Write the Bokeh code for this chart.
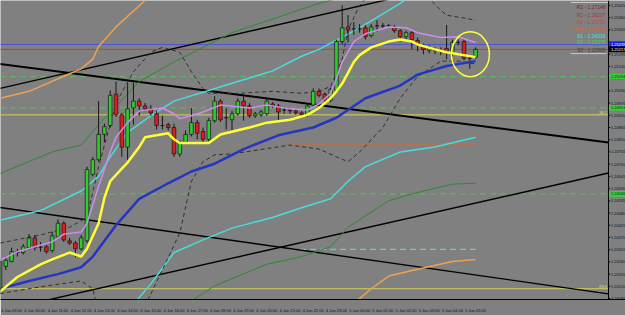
from bokeh.plotting import figure
from bokeh.models import Range1d, FixedTicker
from bokeh.embed import file_html
from bokeh.resources import INLINE
from bokeh.core.properties import value

# ---- M15 bars, bar 0 = 4 Jun 09:00 ----
open_ = [1.24130, 1.24240, 1.24262, 1.24306, 1.24302, 1.24324, 1.24368, 1.24326, 1.24328, 1.24311,
         1.24372, 1.24434, 1.24355, 1.24345, 1.24319, 1.24355, 1.24654, 1.24720, 1.24834, 1.24874,
         1.25015, 1.24922, 1.24777, 1.24953, 1.24984, 1.24962, 1.24949, 1.24927, 1.24874, 1.24878,
         1.24865, 1.24746, 1.24799, 1.24834, 1.24887, 1.24847, 1.24812, 1.24896, 1.24984, 1.24909,
         1.24900, 1.24927, 1.24984, 1.24962, 1.24918, 1.24922, 1.24927, 1.24971, 1.24962, 1.24944,
         1.24944, 1.24940, 1.24931, 1.24922, 1.24966, 1.25028, 1.25015, 1.24988, 1.25032, 1.25252,
         1.25318, 1.25309, 1.25309, 1.25314, 1.25279, 1.25323, 1.25323, 1.25323, 1.25318, 1.25301,
         1.25274, 1.25292, 1.25257, 1.25235, 1.25213, 1.25213, 1.25208, 1.25221, 1.25195, 1.25248,
         1.25252, 1.25177, 1.25182]
high = [1.24275, 1.24284, 1.24324, 1.24319, 1.24341, 1.24385, 1.24381, 1.24350, 1.24337, 1.24395,
        1.24451, 1.24443, 1.24368, 1.24355, 1.24381, 1.24689, 1.24733, 1.24984, 1.24883, 1.25032,
        1.25072, 1.24931, 1.25063, 1.25067, 1.24997, 1.24975, 1.24966, 1.24940, 1.24918, 1.24887,
        1.24883, 1.24808, 1.24852, 1.24953, 1.24900, 1.24865, 1.24909, 1.25006, 1.24993, 1.24953,
        1.24940, 1.24997, 1.25006, 1.24975, 1.24935, 1.24944, 1.24997, 1.24979, 1.24971, 1.24957,
        1.24953, 1.24949, 1.24940, 1.24971, 1.25041, 1.25041, 1.25023, 1.25045, 1.25261, 1.25415,
        1.25371, 1.25340, 1.25331, 1.25327, 1.25331, 1.25349, 1.25336, 1.25331, 1.25327, 1.25309,
        1.25301, 1.25301, 1.25270, 1.25243, 1.25235, 1.25226, 1.25226, 1.25327, 1.25261, 1.25261,
        1.25261, 1.25191, 1.25226]
low = [1.24117, 1.24223, 1.24258, 1.24284, 1.24293, 1.24315, 1.24311, 1.24306, 1.24297, 1.24302,
       1.24368, 1.24350, 1.24337, 1.24280, 1.24311, 1.24345, 1.24645, 1.24711, 1.24799, 1.24865,
       1.24913, 1.24733, 1.24720, 1.24878, 1.24918, 1.24940, 1.24918, 1.24856, 1.24856, 1.24852,
       1.24733, 1.24733, 1.24790, 1.24825, 1.24812, 1.24799, 1.24803, 1.24887, 1.24891, 1.24856,
       1.24852, 1.24918, 1.24896, 1.24909, 1.24909, 1.24913, 1.24918, 1.24953, 1.24900, 1.24927,
       1.24927, 1.24922, 1.24913, 1.24913, 1.24957, 1.25001, 1.24979, 1.24979, 1.25023, 1.25239,
       1.25248, 1.25283, 1.25292, 1.25261, 1.25270, 1.25296, 1.25309, 1.25314, 1.25292, 1.25252,
       1.25261, 1.25217, 1.25208, 1.25195, 1.25199, 1.25195, 1.25191, 1.25173, 1.25186, 1.25235,
       1.25169, 1.25129, 1.25173]
close = [1.24262, 1.24267, 1.24306, 1.24302, 1.24328, 1.24368, 1.24324, 1.24326, 1.24306, 1.24377,
         1.24434, 1.24359, 1.24345, 1.24319, 1.24368, 1.24676, 1.24720, 1.24834, 1.24869, 1.25010,
         1.24922, 1.24777, 1.24949, 1.24984, 1.24962, 1.24949, 1.24931, 1.24874, 1.24874, 1.24865,
         1.24746, 1.24799, 1.24834, 1.24887, 1.24839, 1.24812, 1.24896, 1.24984, 1.24900, 1.24909,
         1.24927, 1.24984, 1.24962, 1.24918, 1.24927, 1.24935, 1.24984, 1.24962, 1.24935, 1.24944,
         1.24940, 1.24931, 1.24922, 1.24962, 1.25028, 1.25010, 1.24988, 1.25037, 1.25252, 1.25314,
         1.25305, 1.25309, 1.25309, 1.25274, 1.25318, 1.25323, 1.25323, 1.25323, 1.25301, 1.25274,
         1.25292, 1.25261, 1.25239, 1.25217, 1.25221, 1.25213, 1.25208, 1.25204, 1.25248, 1.25248,
         1.25177, 1.25177, 1.25217]
bars = list(range(len(open_)))

# ---- indicator lines (bar index, price) ----
ma_fast_x = [0, 3, 6, 9, 11, 14, 15, 17, 19, 20, 22, 24, 28, 30, 31, 33, 35, 38, 43, 46, 50, 53, 55, 57, 58, 59, 61, 63, 67, 70, 72, 76, 79, 82]
ma_fast_y = [1.24267, 1.24306, 1.24328, 1.24350, 1.24385, 1.24395, 1.24434, 1.24601, 1.24755, 1.24821,
             1.24887, 1.24940, 1.24953, 1.24927, 1.24905, 1.24918, 1.24935, 1.24966, 1.24953, 1.24966,
             1.24949, 1.24944, 1.24971, 1.25019, 1.25085, 1.25160, 1.25252, 1.25287, 1.25318, 1.25314,
             1.25292, 1.25270, 1.25274, 1.25248]
ma_yel_x = [0, 3, 7, 9, 12, 14, 15, 17, 18, 19, 21, 22, 24, 25, 29, 30, 31, 36, 38, 43, 46, 50, 53, 55, 57,
            58, 59, 60, 61, 62, 64, 67, 69, 71, 72, 75, 77, 79, 82]
ma_yel_y = [1.24126, 1.24192, 1.24249, 1.24271, 1.24302, 1.24284, 1.24319, 1.24434, 1.24548, 1.24623,
            1.24680, 1.24707, 1.24777, 1.24821, 1.24839, 1.24812, 1.24795, 1.24795, 1.24834, 1.24865,
            1.24887, 1.24900, 1.24922, 1.24953, 1.24997, 1.25028, 1.25063, 1.25111, 1.25160, 1.25191,
            1.25226, 1.25252, 1.25261, 1.25252, 1.25239, 1.25217, 1.25204, 1.25195, 1.25182]
ma_blue_x = [0, 5, 10, 14, 16, 20, 24, 29, 33, 37, 42, 48, 54, 58, 63, 69, 72, 77, 82]
ma_blue_y = [1.24139, 1.24174, 1.24205, 1.24236, 1.24284, 1.24425, 1.24544, 1.24614, 1.24667, 1.24702,
             1.24768, 1.24830, 1.24865, 1.24909, 1.24997, 1.25054, 1.25103, 1.25142, 1.25164]
cyan_a_x = [0, 7, 14, 17, 19, 22, 26, 30, 36, 41, 47, 52, 55, 62, 69, 72]
cyan_a_y = [1.24447, 1.24491, 1.24579, 1.24645, 1.24733, 1.24843, 1.24918, 1.24984, 1.25032, 1.25072,
            1.25120, 1.25186, 1.25217, 1.25314, 1.25424, 1.25481]
cyan_b_x = [22, 26, 30, 35, 40, 47, 52, 57, 60, 63, 69, 75, 82]
cyan_b_y = [1.24038, 1.24161, 1.24302, 1.24359, 1.24412, 1.24460, 1.24504, 1.24544, 1.24623, 1.24689,
            1.24755, 1.24777, 1.24821]
green_a_x = [0, 9, 14, 17, 24, 30, 40, 55, 60]
green_a_y = [1.24658, 1.24755, 1.24786, 1.24878, 1.25072, 1.25160, 1.25292, 1.25424, 1.25459]
green_b_x = [31, 37, 46, 52, 57, 60, 67, 71, 78, 82]
green_b_y = [1.24051, 1.24152, 1.24249, 1.24284, 1.24328, 1.24416, 1.24535, 1.24566, 1.24610, 1.24614]
orange_a_x = [0, 5, 12, 14, 16, 17, 20, 25, 26]
orange_a_y = [1.24997, 1.25028, 1.25107, 1.25129, 1.25173, 1.25230, 1.25318, 1.25437, 1.25459]
orange_b_x = [61, 64, 67, 72, 78, 82]
orange_b_y = [1.24073, 1.24139, 1.24196, 1.24227, 1.24262, 1.24271]
bb_up_x = [0, 7, 12, 15, 17, 20, 23, 26, 28, 31, 33, 35, 36, 41, 47, 52, 55, 57, 59, 60, 62, 64, 73, 76, 77, 82]
bb_up_y = [1.24345, 1.24381, 1.24416, 1.24460, 1.24689, 1.24975, 1.25116, 1.25204, 1.25226, 1.25204,
           1.25116, 1.25041, 1.25019, 1.25019, 1.25028, 1.25019, 1.25028, 1.25050, 1.25173, 1.25305,
           1.25415, 1.25472, 1.25472, 1.25393, 1.25371, 1.25349]
bb_lo_x = [0, 7, 14, 16, 17, 24, 27, 31, 33, 35, 37, 40, 50, 55, 58, 60, 62, 66, 69, 72, 76, 79, 82]
bb_lo_y = [1.24117, 1.24148, 1.24174, 1.24139, 1.24029, 1.24007, 1.24170, 1.24390, 1.24623, 1.24711,
           1.24742, 1.24746, 1.24786, 1.24768, 1.24733, 1.24711, 1.24755, 1.24865, 1.24997, 1.25094,
           1.25164, 1.25164, 1.25151]

# trend lines: (bar0, price0, bar1, price1)
trend_thick = [(0, 1.25151, 104.9, 1.24798)]
trend_thin = [(0, 1.25041, 70, 1.25460), (0, 1.24040, 104.9, 1.24660), (0, 1.24505, 104.9, 1.24116)]

# horizontal levels
ask_level = 1.25239
bid_level = 1.25217
green_levels = [1.25094, 1.24953, 1.24566]
fib_levels = [1.24922, 1.24139]
fib_names = ["38.2", "23.6"]
pivot_level = 1.24791
s1_level = 1.24316
day_start_bar, last_bar = 50, 82
pivot_names = ["R3 - 1.27148", "R2 - 1.26207", "R1 - 1.25732", "Pivot - 1.24791",
               "S1 - 1.24316", "S2 - 1.23375", "S3 - 1.22900"]
pivot_colors = ["#8c1c1c", "#b03434", "#c84848", "#e0641e", "#44e0e0", "#44dd44", "#3c4424"]
circle_bar, circle_price = 81.1, 1.25195

hour_labels = ["4 Jun 09:00", "4 Jun 10:00", "4 Jun 11:00", "4 Jun 12:00", "4 Jun 13:00", "4 Jun 14:00",
               "4 Jun 15:00", "4 Jun 16:00", "4 Jun 17:00", "4 Jun 18:00", "4 Jun 19:00", "4 Jun 20:00",
               "4 Jun 21:00", "4 Jun 22:00", "4 Jun 23:00", "5 Jun 00:00", "5 Jun 01:00", "5 Jun 02:00",
               "5 Jun 03:00", "5 Jun 04:00", "5 Jun 05:00"]
price_ticks = [round(1.25415 - 0.00055 * k, 5) for k in range(25)]

BG = "#808080"
FONT = "Liberation Sans"
X0, X_AXIS, X1 = 0.086, 104.91, 107.84     # chart left, price-scale line, right edge (bar units)
Y0, Y1 = 1.240906, 1.25437

p = figure(width=625, height=315, output_backend="svg", toolbar_location=None,
           x_range=Range1d(X0, X1), y_range=Range1d(Y0, Y1),
           y_axis_location=None, min_border_left=0, min_border_top=0,
           min_border_right=0, min_border_bottom=9,
           background_fill_color=BG, border_fill_color=BG, outline_line_color=None)
p.grid.visible = False

xa = p.xaxis[0]
xa.ticker = FixedTicker(ticks=[4 * h + 2 for h in range(len(hour_labels))])
xa.major_label_overrides = {4 * h + 2: lab for h, lab in enumerate(hour_labels)}
xa.major_label_text_font_size = "4px"
xa.major_label_text_font = FONT
xa.major_label_text_color = "#111111"
xa.major_tick_line_color = None
xa.minor_tick_line_color = None
xa.major_label_standoff = 2
xa.axis_line_color = "black"

# horizontal levels
x_full = [0, X_AXIS]
p.line(x_full, [ask_level] * 2, color="#4a56d8", line_width=1)
p.line(x_full, [bid_level] * 2, color="#c0402c", line_width=1)
for lv in green_levels:
    p.line(x_full, [lv] * 2, color="#5ac05a", line_width=1, line_dash="6 4")
for lv in fib_levels:
    p.line(x_full, [lv] * 2, color="#d2d25a", line_width=1)
p.text(x=[104.6] * 2, y=[lv + 0.00003 for lv in fib_levels], text=fib_names, text_color="#e6e65a",
       text_font_size="4px", text_font=value(FONT), text_align="right", text_baseline="bottom")
p.line([day_start_bar, last_bar], [pivot_level] * 2, color="#e0642e", line_width=1.2)
p.line([day_start_bar, last_bar], [s1_level] * 2, color="#6cc8d8", line_width=1.2, line_dash="6 4")

# trend lines
for x0, y0, x1, y1 in trend_thick:
    p.line([x0, x1], [y0, y1], color="black", line_width=2)
for x0, y0, x1, y1 in trend_thin:
    p.line([x0, x1], [y0, y1], color="black", line_width=1.4)

# moving averages / bands
p.line(orange_a_x, orange_a_y, color="#f0a050", line_width=1.5)
p.line(orange_b_x, orange_b_y, color="#f0a050", line_width=1.5)
p.line(green_a_x, green_a_y, color="#2e8a2e", line_width=1)
p.line(green_b_x, green_b_y, color="#2e8a2e", line_width=1)
p.line(cyan_a_x, cyan_a_y, color="#48dcdc", line_width=1.5)
p.line(cyan_b_x, cyan_b_y, color="#48dcdc", line_width=1.5)
p.line(bb_up_x, bb_up_y, color="#303030", line_width=1, line_dash="4 3")
p.line(bb_lo_x, bb_lo_y, color="#303030", line_width=1, line_dash="4 3")

# candles
colors = ["#2fcc2f" if c >= o else "#e01c1c" for o, c in zip(open_, close)]
tops = [max(o, c) for o, c in zip(open_, close)]
bots = [min(o, c) for o, c in zip(open_, close)]
p.segment(x0=bars, y0=high, x1=bars, y1=low, color="#151515", line_width=1)
p.vbar(x=bars, width=0.62, top=tops, bottom=bots, fill_color=colors, line_color="#151515", line_width=0.7)

p.line(ma_blue_x, ma_blue_y, color="#2436c0", line_width=2.5)
p.line(ma_fast_x, ma_fast_y, color="#cc8cf0", line_width=1.5)
p.line(ma_yel_x, ma_yel_y, color="#ffff38", line_width=2.5)

# circle highlight
p.ellipse(x=[circle_bar], y=[circle_price], width=6.55, height=0.00202, fill_color=None,
          line_color="#ffff44", line_width=1.5)

# pivot text block
piv_y = [1.25406, 1.25371, 1.25340, 1.25309, 1.25279, 1.25248, 1.25213]
p.text(x=[104.4] * 7, y=piv_y, text=pivot_names, text_color=pivot_colors, text_font_size="5px",
       text_font=value(FONT), text_align="right", text_baseline="middle")
p.line([98.4, 104.9], [1.25428, 1.25428], color="#c8c8c8", line_width=1)
p.line([98.4, 104.6], [1.25198, 1.25198], color="#c8c8c8", line_width=1)

# ---- price scale on the right (MT4 style) ----
p.line([X_AXIS, X_AXIS], [Y0, Y1], color="black", line_width=1)
p.segment(x0=[X_AXIS] * len(price_ticks), y0=price_ticks, x1=[X_AXIS + 0.3] * len(price_ticks),
          y1=price_ticks, color="black", line_width=1)
p.text(x=[X_AXIS + 0.42] * len(price_ticks), y=price_ticks, text=[f"{t:.5f}" for t in price_ticks],
       text_color="#111111", text_font_size="4px", text_font=value(FONT),
       text_align="left", text_baseline="middle")

tag_prices = [ask_level, bid_level] + green_levels
tag_fill = ["#1424e6", "#000000", "#3ccc3c", "#3ccc3c", "#3ccc3c"]
tag_text = ["white", "white", "#0a2a0a", "#0a2a0a", "#0a2a0a"]
p.rect(x=[(X_AXIS + X1) / 2 + 0.05] * len(tag_prices), y=tag_prices, width=X1 - X_AXIS - 0.1,
       height=0.00026, fill_color=tag_fill, line_color=None)
p.text(x=[X_AXIS + 0.42] * len(tag_prices), y=tag_prices, text=[f"{t:.5f}" for t in tag_prices],
       text_color=tag_text, text_font_size="4px", text_font=value(FONT),
       text_align="left", text_baseline="middle")

open("out.html", "w").write(file_html(p, INLINE))
